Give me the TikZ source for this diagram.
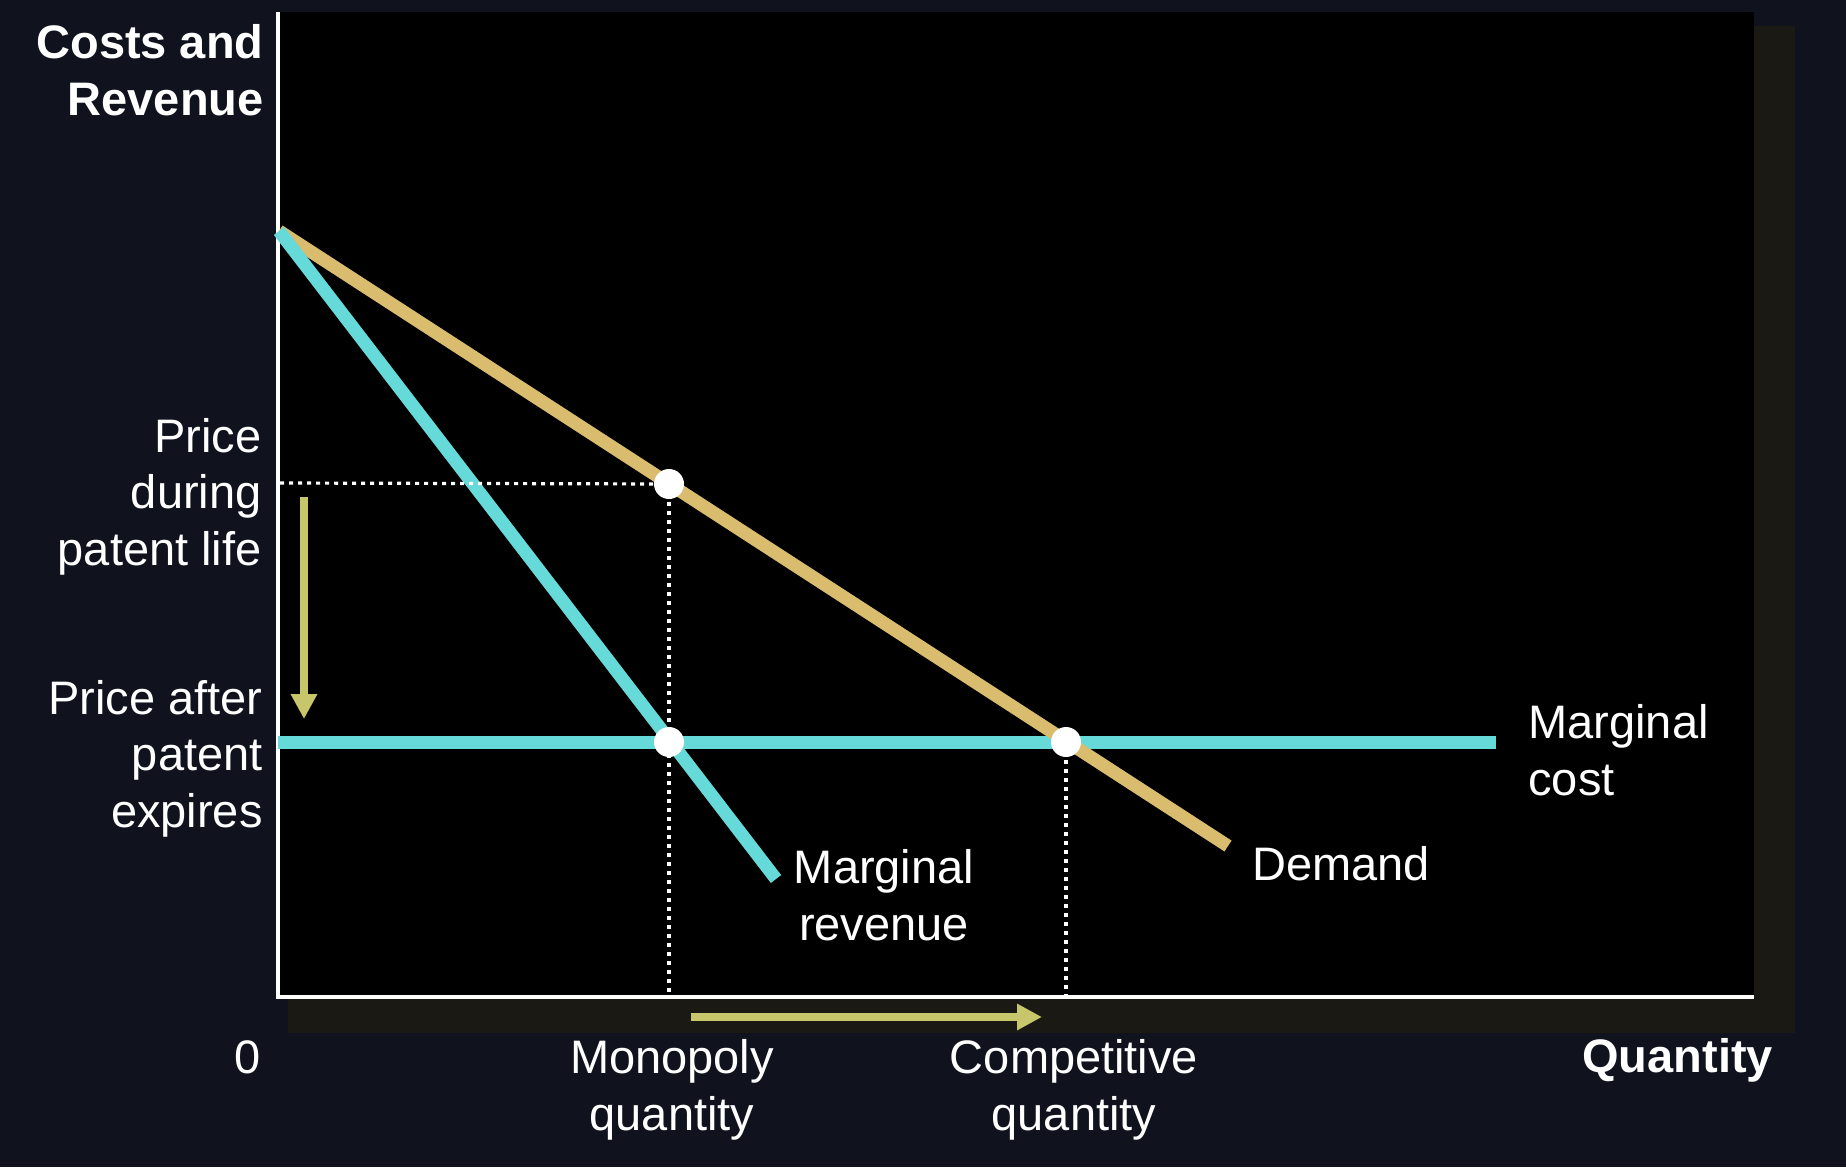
\documentclass[tikz,border=0pt]{standalone}
\usepackage{fontspec}
\setmainfont{Liberation Sans}
\usetikzlibrary{arrows.meta}
\definecolor{bgnavy}{RGB}{16,18,30}
\definecolor{shadowc}{RGB}{26,25,19}
\definecolor{mrcyan}{RGB}{102,217,217}
\definecolor{demtan}{RGB}{217,188,110}
\definecolor{olivec}{RGB}{200,198,106}
\begin{document}
\begin{tikzpicture}[x=0.5pt,y=-0.5pt,
  lbl/.style={text=white,inner sep=0pt,font=\fontsize{23.5}{28.25}\selectfont},
  blbl/.style={lbl,font=\fontsize{23.5}{28.25}\selectfont\bfseries},
  curve/.style={line width=6.5pt},
  guide/.style={white,line width=1.6pt,dash pattern=on 2pt off 2.5pt},
  dot/.style={circle,fill=white,minimum size=15pt,inner sep=0pt},
  shiftarrow/.style={olivec,line width=4pt,-{Triangle[length=12.5pt,width=12.5pt]}}
]
\fill[bgnavy] (0,0) rectangle (1846,1167);
\useasboundingbox (0,0) rectangle (1846,1167);
% shadow and plot area
\fill[shadowc] (288,26) rectangle (1795,1033);
\fill[black] (278,12) rectangle (1754,996);
% axes
\coordinate (O) at (278,997);
\coordinate (Ytop) at (278,12);
\coordinate (Xend) at (1754,997);
\draw[white,line width=1.75pt] (Ytop) -- (O) -- (Xend);
% curve end points
\coordinate (start) at (279,231);
\coordinate (mrend) at (776,879);
\coordinate (demend) at (1228,846);
\coordinate (mcstart) at (278,742);
\coordinate (mcend) at (1496,742);
% intersection points
\coordinate (pmc) at (669,484);
\coordinate (qmc) at (669,742);
\coordinate (qcc) at (1066,742);
% curves
\draw[curve,mrcyan] (mcstart) -- (mcend);
\draw[curve,demtan] (start) -- (demend);
\draw[curve,mrcyan] (start) -- (mrend);
% guides
\coordinate (pmaxis) at (280,483);
\draw[guide] (pmaxis) -- (pmc);
\draw[guide] (pmc) -- (pmc |- O);
\draw[guide] (qcc) -- (qcc |- O);
% points
\node[dot] (pm) at (pmc) {};
\node[dot] (qm) at (qmc) {};
\node[dot] (qc) at (qcc) {};
% shift arrows
\coordinate (va) at (304,497);
\coordinate (vb) at (304,719);
\coordinate (ha) at (691,1017);
\coordinate (hb) at (1042,1017);
\draw[shiftarrow] (va) -- (vb);
\draw[shiftarrow] (ha) -- (hb);
% labels (base anchor = baseline of last line)
\node[blbl,align=right,anchor=base east] (cr) at (264,115) {Costs and\\Revenue};
\node[lbl,align=right,anchor=base east] (pd) at (262,565) {Price\\during\\patent life};
\node[lbl,align=right,anchor=base east] (pa) at (263,827) {Price after\\patent\\expires};
\node[lbl,align=left,anchor=base west] (mcl) at (1528,795) {Marginal\\cost};
\node[lbl,align=center,anchor=base] (mrl) at (884,940) {Marginal\\revenue};
\node[lbl,anchor=base west] (dl) at (1252,880) {Demand};
\node[lbl,anchor=base west] (zero) at (234,1073) {0};
\node[lbl,align=center,anchor=base] (mq) at (672,1130) {Monopoly\\quantity};
\node[lbl,align=center,anchor=base] (cq) at (1074,1130) {Competitive\\quantity};
\node[blbl,anchor=base west] (ql) at (1582,1072) {Quantity};
\end{tikzpicture}
\end{document}
